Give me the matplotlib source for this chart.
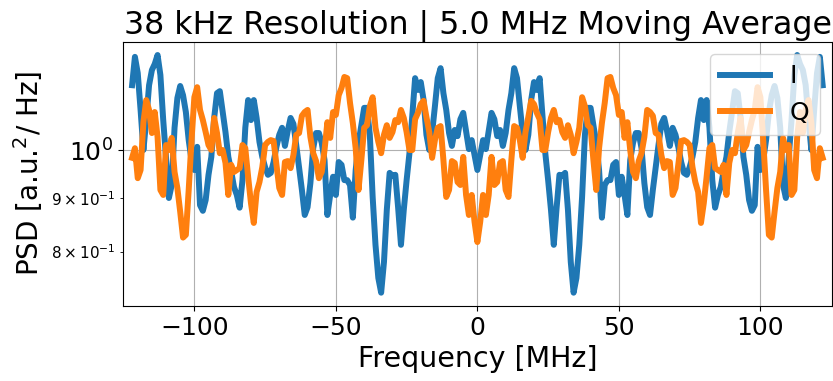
import numpy as np
import matplotlib
matplotlib.use("Agg")
import matplotlib.pyplot as plt

# Frequency grid [MHz]
freq = np.arange(-122, 123, 1.0)

# PSD of I (negative frequencies -122..0, then positive 1..122)
psd_I_neg = [1.153, 1.227, 1.184, 1.092, 1.000, 1.068, 1.153, 1.192, 1.208, 1.232,
             1.179, 1.068, 0.983, 0.900, 0.926, 1.050, 1.121, 1.151, 1.128, 1.087,
             1.022, 0.978, 0.957, 1.007, 0.886, 0.875, 0.896, 0.947, 0.985, 1.073,
             1.133, 1.138, 1.087, 1.040, 0.985, 0.955, 0.922, 0.906, 0.881, 0.936,
             1.050, 1.116, 1.068, 1.116, 1.073, 1.018, 0.985, 0.963, 0.947, 0.951,
             0.974, 1.007, 1.034, 1.050, 1.009, 1.043, 1.073, 1.059, 1.011, 0.963,
             0.916, 0.867, 0.882, 0.930, 1.004, 1.038, 1.038, 1.016, 0.978, 0.867,
             0.906, 0.943, 0.906, 0.974, 0.968, 0.936, 0.936, 0.926, 0.862, 0.957,
             1.016, 1.056, 1.097, 1.097, 1.034, 0.902, 0.812, 0.755, 0.731, 0.782,
             0.877, 0.951, 0.945, 0.947, 0.881, 0.812, 0.877, 0.936, 0.993, 1.080,
             1.171, 1.141, 1.161, 1.116, 1.034, 1.000, 1.038, 1.101, 1.171, 1.197,
             1.133, 1.092, 1.038, 1.009, 1.045, 1.031, 1.070, 1.085, 1.043, 1.002,
             1.022, 0.989, 0.957]
psd_I_pos = [0.989, 1.022, 1.002, 1.043, 1.085, 1.070, 1.031, 1.045, 1.009, 1.038,
             1.092, 1.133, 1.197, 1.171, 1.101, 1.038, 1.000, 1.034, 1.116, 1.161,
             1.141, 1.171, 1.080, 0.993, 0.936, 0.877, 0.812, 0.881, 0.947, 0.945,
             0.951, 0.877, 0.782, 0.731, 0.755, 0.812, 0.902, 1.034, 1.097, 1.097,
             1.056, 1.016, 0.957, 0.862, 0.926, 0.936, 0.936, 0.968, 0.974, 0.906,
             0.943, 0.906, 0.867, 0.978, 1.016, 1.038, 1.038, 1.004, 0.930, 0.882,
             0.867, 0.916, 0.963, 1.011, 1.059, 1.073, 1.043, 1.009, 1.050, 1.034,
             1.007, 0.974, 0.951, 0.947, 0.963, 0.985, 1.018, 1.073, 1.116, 1.068,
             1.116, 1.050, 0.936, 0.881, 0.906, 0.922, 0.955, 0.985, 1.040, 1.087,
             1.138, 1.133, 1.073, 0.985, 0.947, 0.896, 0.875, 0.886, 1.007, 0.957,
             0.978, 1.022, 1.087, 1.128, 1.151, 1.121, 1.050, 0.926, 0.900, 0.983,
             1.068, 1.179, 1.232, 1.208, 1.192, 1.153, 1.068, 1.000, 1.092, 1.184,
             1.227, 1.153]

# PSD of Q
psd_Q_neg = [0.983, 1.004, 0.940, 0.957, 1.063, 1.116, 1.092, 1.038, 1.087, 1.029,
             0.916, 0.906, 1.011, 1.000, 1.027, 0.953, 0.920, 0.873, 0.825, 0.830,
             0.916, 1.022, 1.123, 1.148, 1.092, 1.068, 1.040, 1.011, 1.000, 1.073,
             1.038, 0.993, 1.000, 0.972, 0.906, 0.968, 0.953, 0.957, 0.961, 1.011,
             1.004, 0.943, 0.890, 0.852, 0.912, 0.932, 0.963, 1.011, 1.018, 1.022,
             1.020, 0.968, 0.920, 0.906, 0.974, 0.976, 0.961, 0.989, 1.034, 1.038,
             1.078, 1.087, 1.092, 1.029, 0.993, 0.976, 0.940, 0.953, 1.000, 1.063,
             1.027, 1.087, 1.080, 1.128, 1.146, 1.174, 1.171, 1.109, 1.061, 1.004,
             0.916, 0.978, 1.050, 1.056, 1.101, 1.123, 1.050, 1.018, 0.993, 1.034,
             1.056, 1.027, 1.040, 1.068, 1.063, 1.092, 1.073, 1.040, 1.000, 1.000,
             1.070, 1.085, 1.106, 1.114, 1.075, 1.040, 0.983, 1.022, 1.050, 1.054,
             0.978, 0.902, 0.916, 0.976, 0.972, 0.932, 0.926, 0.985, 0.906, 0.867,
             0.906, 0.854, 0.817]
psd_Q_pos = [0.854, 0.906, 0.867, 0.906, 0.985, 0.926, 0.932, 0.972, 0.976, 0.916,
             0.902, 0.978, 1.054, 1.050, 1.022, 0.983, 1.040, 1.075, 1.114, 1.106,
             1.085, 1.070, 1.000, 1.000, 1.040, 1.073, 1.092, 1.063, 1.068, 1.040,
             1.027, 1.056, 1.034, 0.993, 1.018, 1.050, 1.123, 1.101, 1.056, 1.050,
             0.978, 0.916, 1.004, 1.061, 1.109, 1.171, 1.174, 1.146, 1.128, 1.080,
             1.087, 1.027, 1.063, 1.000, 0.953, 0.940, 0.976, 0.993, 1.029, 1.092,
             1.087, 1.078, 1.038, 1.034, 0.989, 0.961, 0.976, 0.974, 0.906, 0.920,
             0.968, 1.020, 1.022, 1.018, 1.011, 0.963, 0.932, 0.912, 0.852, 0.890,
             0.943, 1.004, 1.011, 0.961, 0.957, 0.953, 0.968, 0.906, 0.972, 1.000,
             0.993, 1.038, 1.073, 1.000, 1.011, 1.040, 1.068, 1.092, 1.148, 1.123,
             1.022, 0.916, 0.830, 0.825, 0.873, 0.920, 0.953, 1.027, 1.000, 1.011,
             0.906, 0.916, 1.029, 1.087, 1.038, 1.092, 1.116, 1.063, 0.957, 0.940,
             1.004, 0.983]

psd_I = np.array(psd_I_neg + psd_I_pos)
psd_Q = np.array(psd_Q_neg + psd_Q_pos)

fig = plt.figure(figsize=(8.33, 3.81), dpi=100)
ax = fig.add_axes([0.1477, 0.197, 0.8511, 0.693])

ax.semilogy(freq, psd_I, color="#1f77b4", lw=4.3, label="I")
ax.semilogy(freq, psd_Q, color="#ff7f0e", lw=4.3, label="Q")

ax.set_xlim(-125.2, 125.3)
ax.set_ylim(0.710, 1.268)
ax.set_xticks([-100, -50, 0, 50, 100])
ax.grid(True)
ax.tick_params(axis="both", which="major", labelsize=18)
ax.tick_params(axis="y", which="minor", labelsize=11)

ax.set_title("38 kHz Resolution | 5.0 MHz Moving Average", fontsize=22.8)
ax.set_xlabel("Frequency [MHz]", fontsize=20.5)
ax.set_ylabel("PSD [a.u.$^2$/ Hz]", fontsize=20)
ax.legend(loc="upper right", fontsize=18)

fig.savefig("out.png", dpi=100)
